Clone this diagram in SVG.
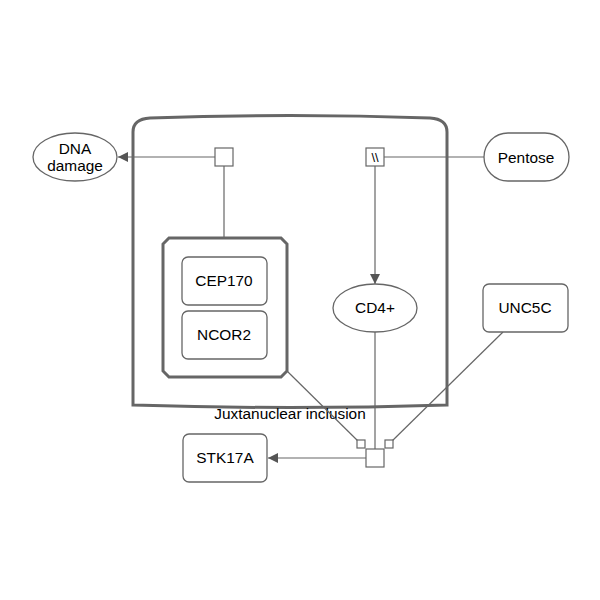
<svg xmlns="http://www.w3.org/2000/svg" width="600" height="600" viewBox="0 0 600 600">
<style>
text{font-family:"Liberation Sans",Arial,sans-serif;font-size:15.4px;fill:#000;text-anchor:middle}
.n{fill:#fff;stroke:#666;stroke-width:1.3}
.c{fill:none;stroke:#666;stroke-width:1.2}
.p{fill:#fff;stroke:#666;stroke-width:1.2}
</style>
<defs>
<marker id="arr" viewBox="0 0 10 10" refX="10" refY="5" markerWidth="10" markerHeight="10" markerUnits="userSpaceOnUse" orient="auto">
<path d="M0,0 L10,5 L0,10 z" fill="#555"/>
</marker>
</defs>
<rect width="600" height="600" fill="#fff"/>
<g id="compartment">
<path d="M133,405 L133,132 Q133,119 150,118 Q290,113 430,118 Q447,119 447,132 L447,405 Q290,410 133,405 Z" fill="none" stroke="#666" stroke-width="3"/>
<text x="290" y="419">Juxtanuclear inclusion</text>
</g>
<g id="connectors">
<line class="c" x1="215" y1="157" x2="118" y2="157" marker-end="url(#arr)"/>
<line class="c" x1="224" y1="166" x2="224" y2="238"/>
<line class="c" x1="484" y1="157" x2="384" y2="157"/>
<line class="c" x1="375" y1="166" x2="375" y2="284" marker-end="url(#arr)"/>
<line class="c" x1="287" y1="371" x2="361" y2="444"/>
<line class="c" x1="375" y1="332" x2="375" y2="449"/>
<line class="c" x1="503" y1="332" x2="389" y2="444"/>
<line class="c" x1="366" y1="458" x2="268" y2="458" marker-end="url(#arr)"/>
</g>
<g id="dna-damage">
<ellipse class="n" cx="75" cy="157" rx="42" ry="24"/>
<text x="75" y="154">DNA</text>
<text x="75" y="171">damage</text>
</g>
<g id="pentose">
<rect class="n" x="484" y="133" width="85" height="48" rx="24" ry="24"/>
<text x="526" y="163">Pentose</text>
</g>
<g id="process1">
<rect class="p" x="215" y="148" width="18" height="18"/>
</g>
<g id="process2">
<rect class="p" x="366" y="148" width="18" height="18"/>
<text x="375" y="162" style="font-size:13px">\\</text>
</g>
<g id="complex">
<path d="M169,238 L281,238 L287,244 L287,371 L281,377 L169,377 L163,371 L163,244 Z" fill="#fff" stroke="#666" stroke-width="3"/>
</g>
<g id="cep170">
<rect class="n" x="182" y="257" width="85" height="48" rx="6"/>
<text x="224" y="286">CEP170</text>
</g>
<g id="ncor2">
<rect class="n" x="182" y="311" width="85" height="48" rx="6"/>
<text x="224" y="340">NCOR2</text>
</g>
<g id="cd4">
<ellipse class="n" cx="375" cy="308" rx="42" ry="24"/>
<text x="375" y="313">CD4+</text>
</g>
<g id="unc5c">
<rect class="n" x="483" y="284" width="85" height="48" rx="6"/>
<text x="525" y="313">UNC5C</text>
</g>
<g id="stk17a">
<rect class="n" x="183" y="434" width="84" height="48" rx="6"/>
<text x="225" y="463">STK17A</text>
</g>
<g id="process3">
<rect class="p" x="366" y="449" width="18" height="18"/>
<rect class="p" x="357" y="440" width="8" height="8"/>
<rect class="p" x="385" y="440" width="8" height="8"/>
</g>
</svg>
